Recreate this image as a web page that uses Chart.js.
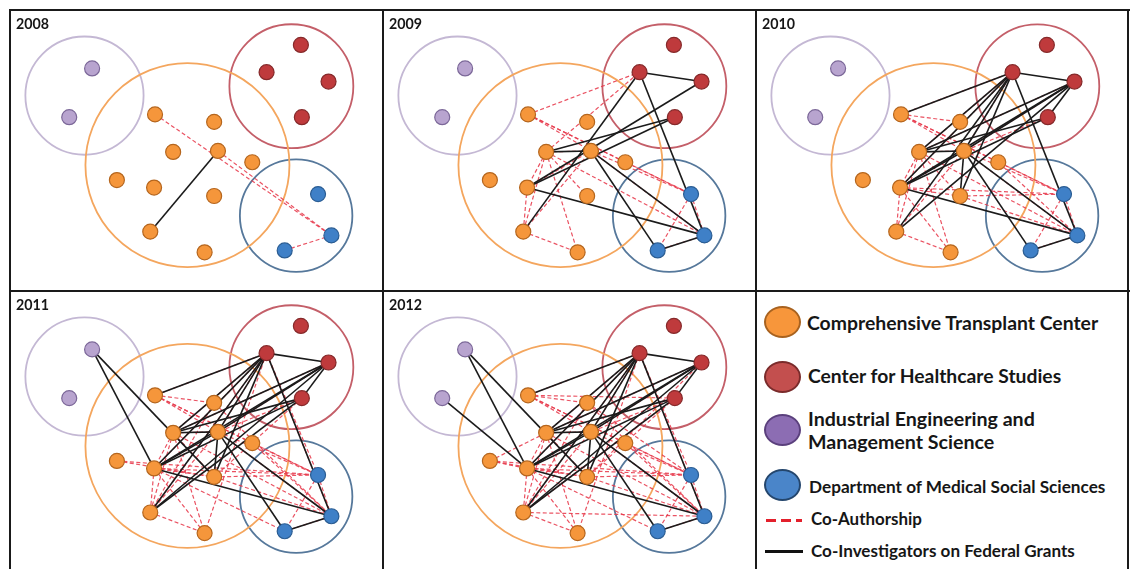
<!DOCTYPE html>
<html>
<head>
<meta charset="utf-8">
<script src="https://cdn.jsdelivr.net/npm/chart.js@4.4.1/dist/chart.umd.min.js"></script>
<style>
  html, body { margin: 0; padding: 0; background: #fff; }
  #stage { position: relative; width: 1134px; height: 569px; overflow: hidden; background: #fff; }
  .panel { position: absolute; overflow: hidden; }
  .panel canvas { position: absolute; left: 0; top: 0; }
  .txt { position: absolute; font-family: Lato, "Open Sans", sans-serif; font-weight: 700; color: #161616; line-height: 1; white-space: nowrap; }
  .rule { position: absolute; background: #1a1a1a; z-index: 5; }
  .swatch { position: absolute; border-radius: 50%; box-sizing: border-box; }
  .lineSample { position: absolute; }
</style>
</head>
<body>
<div id="stage"></div>
<script>
// ---- Departments (groups) ----
const groupNames = ['Comprehensive Transplant Center', 'Center for Healthcare Studies',
                    'Industrial Engineering and Management Science', 'Department of Medical Social Sciences'];
const legendLines = [['Comprehensive Transplant Center'], ['Center for Healthcare Studies'],
                     ['Industrial Engineering and', 'Management Science'], ['Department of Medical Social Sciences']];

// ---- Researchers: position inside each panel (panel units) and department ----
const nodeIds   = ['P1','P2','R1','R2','R3','R4','O1','O2','O3','O4','O5','O6','O7','O8','O9','O10','B1','B2','B3'];
const nodeX     = [ 77,  53, 296, 260, 325, 297, 143, 205, 162, 209, 245, 103, 142, 205, 138, 195, 314, 328, 279];
const nodeY     = [ 53, 105,  28,  57,  67, 105, 102, 110, 142, 141, 153, 172, 180, 189, 227, 249, 187, 231, 247];
const nodeGroup = [  2,   2,   1,   1,   1,   1,   0,   0,   0,   0,   0,   0,   0,   0,   0,   0,   3,   3,   3];

// ---- Department rings ----
const ringX = [177, 286,  69, 291];
const ringY = [156,  72,  82, 210];
const ringR = [107,  65,  62,  59];

// ---- Years ----
const years = ['2008', '2009', '2010', '2011', '2012'];

// Co-investigators on federal grants (solid)
const grants2008 = [['O4','O9']];
const grants2009 = [['R2','R3'],['R2','B2'],['R2','O9'],['R3','O7'],['R4','O3'],['R4','O7'],['O3','O4'],
                    ['O4','B3'],['O4','B2'],['O7','B2'],['B3','B2']];
const grants2010 = [['O1','R2'],['R2','R3'],['R3','R4'],['R2','B2'],['R2','O3'],['R2','O7'],['R2','O9'],['R2','O4'],
                    ['R2','O8'],['R3','O3'],['R3','O7'],['R3','O9'],['R4','O3'],['R4','O7'],['O3','O4'],['O4','O8'],
                    ['O4','B3'],['O4','B2'],['O7','B2'],['B3','B2'],['O7','O4'],['R3','O4']];
const grants2011 = [['O1','R2'],['R2','R3'],['R3','R4'],['R2','B2'],['R2','O3'],['R2','O7'],['R2','O9'],['R2','O4'],
                    ['R2','O8'],['R3','O3'],['R3','O7'],['R3','O9'],['R4','O3'],['R4','O7'],['O3','O4'],['O4','O8'],
                    ['O4','B3'],['O4','B2'],['O7','B2'],['B3','B2'],['O7','O4'],['R3','O4'],['P1','O7'],['P1','O8'],
                    ['R4','O9']];
const grants2012 = [['O1','R2'],['R2','R3'],['R3','R4'],['R2','B2'],['R2','O3'],['R2','O7'],['R2','O9'],['R2','O4'],
                    ['R2','O8'],['R3','O3'],['R3','O7'],['R3','O9'],['R4','O3'],['R4','O7'],['O3','O4'],['O4','O8'],
                    ['O4','B3'],['O4','B2'],['O7','B2'],['B3','B2'],['O7','O4'],['R3','O4'],['P1','O7'],['P1','O8'],
                    ['R4','O9'],['P2','O7']];

// Co-authorship (dashed)
const coauth2008 = [['O1','B2'],['O4','B2'],['B3','B2']];
const coauth2009 = [['O1','R2'],['O1','O4'],['O1','B1'],['O3','R2'],['O3','O4'],['O3','O7'],['O3','O9'],['O3','O8'],
                    ['O3','O10'],['O7','O9'],['O9','O10'],['O9','O4'],['O4','B1'],['O5','B1'],['O4','B2'],['O3','B2'],
                    ['B1','B2'],['B1','B3'],['B3','B2'],['O7','O4'],['O1','O5']];
const coauth2010 = [['O1','R2'],['O1','O4'],['O1','O2'],['O1','B1'],['O3','R2'],['O3','O4'],['O3','O7'],['O3','O9'],
                    ['O3','O8'],['O3','O10'],['O7','O9'],['O7','O10'],['O9','O10'],['O9','O4'],['O4','B1'],['O5','B1'],
                    ['O4','B2'],['O3','B2'],['O8','B1'],['O8','B2'],['O7','B1'],['R4','O4'],['R2','O7'],['B1','B2'],
                    ['B1','B3'],['B3','B2'],['O5','B2'],['R3','O4'],['R2','O4'],['O7','O8'],['R3','O3'],['O1','O5']];
const coauth2011 = [['O1','R2'],['O1','O4'],['O1','O2'],['O1','B1'],['O3','R2'],['O3','O4'],['O3','O7'],['O3','O9'],
                    ['O3','O8'],['O3','O10'],['O7','O9'],['O7','O10'],['O9','O10'],['O9','O4'],['O4','B1'],['O5','B1'],
                    ['O4','B2'],['O3','B2'],['O8','B1'],['O8','B2'],['O7','B1'],['R4','O4'],['R2','O7'],['B1','B2'],
                    ['B1','B3'],['B3','B2'],['O5','B2'],['R3','O4'],['R2','O4'],['O7','O8'],['R3','O3'],['O1','O5'],
                    ['O6','B1'],['R2','B1'],['R2','B2'],['O6','O8'],['R2','O9'],['O2','O9'],['R2','O10'],['O2','B2'],
                    ['O7','B3'],['R4','O8']];
const coauth2012 = [['O1','R2'],['O1','O4'],['O1','O2'],['O1','B1'],['O3','R2'],['O3','O4'],['O3','O7'],['O3','O9'],
                    ['O3','O8'],['O3','O10'],['O7','O9'],['O7','O10'],['O9','O10'],['O9','O4'],['O4','B1'],['O5','B1'],
                    ['O4','B2'],['O3','B2'],['O8','B1'],['O8','B2'],['O7','B1'],['R4','O4'],['R2','O7'],['B1','B2'],
                    ['B1','B3'],['B3','B2'],['O5','B2'],['R3','O4'],['R2','O4'],['O7','O8'],['R3','O3'],['O1','O5'],
                    ['O6','B1'],['R2','B1'],['R2','B2'],['O6','O8'],['R2','O9'],['O2','O9'],['R2','O10'],['O2','B2'],
                    ['O7','B3'],['R4','O8'],['O6','O3'],['O6','O7'],['R4','O9'],['O2','B1'],['R4','O1'],['O9','B2'],
                    ['R3','O8']];

const grantsByYear = [grants2008, grants2009, grants2010, grants2011, grants2012];
const coauthByYear = [coauth2008, coauth2009, coauth2010, coauth2011, coauth2012];

// ---- Styling ----
const nodeFill   = ['#f5963b', '#bf3a3c', '#b8a4cf', '#3f80c7'];
const nodeEdge   = ['#b5661e', '#862a2b', '#7c6899', '#2b5d93'];
const ringColor  = ['#f4a65e', '#c45f69', '#c4b8d4', '#56789b'];
const swatchFill = ['#f7963b', '#c34f4e', '#8c6db3', '#4a85c9'];
const swatchEdge = ['#a8621f', '#7a2b2b', '#5b407d', '#24466d'];

// ---- Page layout: panel frames ----
const panels = [
  { x: 10,  y: 10,  w: 373, h: 281 },
  { x: 383, y: 10,  w: 373, h: 281 },
  { x: 756, y: 10,  w: 372, h: 281 },
  { x: 10,  y: 291, w: 373, h: 278 },
  { x: 383, y: 291, w: 373, h: 278 },
  { x: 756, y: 291, w: 372, h: 278 }
];

const stage = document.getElementById('stage');
const measure = document.createElement('canvas').getContext('2d');
function fitSize(text, width) {
  measure.font = '700 100px Lato';
  return 100 * width / measure.measureText(text).width;
}
function addText(parent, text, left, capCenter, size) {
  const d = document.createElement('div');
  d.className = 'txt';
  d.textContent = text;
  d.style.fontSize = size + 'px';
  d.style.left = left + 'px';
  d.style.top = (capCenter - 0.529 * size) + 'px';
  parent.appendChild(d);
  return d;
}
function addRule(x, y, w, h) {
  const r = document.createElement('div');
  r.className = 'rule';
  Object.assign(r.style, { left: x + 'px', top: y + 'px', width: w + 'px', height: h + 'px' });
  stage.appendChild(r);
}

const nodeIndex = Object.fromEntries(nodeIds.map((id, i) => [id, i]));
const pt = id => ({ x: nodeX[nodeIndex[id]], y: nodeY[nodeIndex[id]] });

function networkChart(panel, year, grants, coauth) {
  const div = document.createElement('div');
  div.className = 'panel';
  Object.assign(div.style, { left: panel.x + 'px', top: panel.y + 'px', width: panel.w + 'px', height: panel.h + 'px' });
  stage.appendChild(div);
  const cv = document.createElement('canvas');
  cv.width = panel.w; cv.height = panel.h;
  cv.style.width = panel.w + 'px'; cv.style.height = panel.h + 'px';
  div.appendChild(cv);

  const datasets = [];
  // department rings, radius given in panel units
  groupNames.forEach((g, gi) => {
    datasets.push({
      label: g + ' ring',
      data: [{ x: ringX[gi], y: ringY[gi] }],
      pointRadius: c => {
        const s = c.chart.scales.x;
        return Math.abs(s.getPixelForValue(ringR[gi]) - s.getPixelForValue(0));
      },
      pointBackgroundColor: 'rgba(0,0,0,0)',
      pointBorderColor: ringColor[gi],
      pointBorderWidth: 1.8,
      clip: false,
      order: 3
    });
  });
  // co-authorship links
  coauth.forEach(([a, b]) => datasets.push({
    label: 'Co-Authorship',
    data: [pt(a), pt(b)], showLine: true, tension: 0,
    borderColor: 'rgba(231,58,76,0.88)', borderWidth: 1.2, borderDash: [4, 2.5],
    pointRadius: 0, order: 2
  }));
  // grant links
  grants.forEach(([a, b]) => datasets.push({
    label: 'Co-Investigators on Federal Grants',
    data: [pt(a), pt(b)], showLine: true, tension: 0,
    borderColor: '#1b1b1b', borderWidth: 1.6,
    pointRadius: 0, order: 1
  }));
  // researchers
  groupNames.forEach((g, gi) => {
    datasets.push({
      label: g,
      data: nodeIds.filter((id, i) => nodeGroup[i] === gi).map(pt),
      pointRadius: 7.5,
      pointBackgroundColor: nodeFill[gi],
      pointBorderColor: nodeEdge[gi],
      pointBorderWidth: 1.2,
      order: 0
    });
  });

  new Chart(cv, {
    type: 'scatter',
    data: { datasets },
    options: {
      responsive: false,
      animation: false,
      events: [],
      layout: { padding: 0 },
      plugins: { legend: { display: false }, tooltip: { enabled: false } },
      scales: {
        x: { type: 'linear', min: 0, max: panel.w, display: false },
        y: { type: 'linear', min: 0, max: panel.h, reverse: true, display: false }
      }
    }
  });

  const yearLabel = addText(div, year, 6, 14.6, fitSize(year, 33));
  yearLabel.style.zIndex = 2;
}

years.forEach((yr, i) => networkChart(panels[i], yr, grantsByYear[i], coauthByYear[i]));

// ---- Legend panel ----
const lp = panels[5];
const legend = document.createElement('div');
legend.className = 'panel';
Object.assign(legend.style, { left: lp.x + 'px', top: lp.y + 'px', width: lp.w + 'px', height: lp.h + 'px' });
stage.appendChild(legend);

const swatchCY   = [31, 86, 139, 194];
const labelLeft  = [51, 52, 52, 53];
const labelCap   = [[32.3], [85.3], [128.2, 151.5], [195.7]];
const labelWidth = [292, 254, 227, 297];
legendLines.forEach((lines, gi) => {
  const sw = document.createElement('div');
  sw.className = 'swatch';
  Object.assign(sw.style, {
    left: (26 - 18.5) + 'px', top: (swatchCY[gi] - 16) + 'px', width: '37px', height: '32px',
    background: swatchFill[gi], border: '2.5px solid ' + swatchEdge[gi]
  });
  legend.appendChild(sw);
  const size = fitSize(lines[0], labelWidth[gi]);
  lines.forEach((t, li) => addText(legend, t, labelLeft[gi], labelCap[gi][li], size));
});

const dashed = document.createElement('div');
dashed.className = 'lineSample';
Object.assign(dashed.style, {
  left: '10px', top: '227.5px', width: '36px', height: '3px',
  background: 'repeating-linear-gradient(90deg, #e3202c 0 10px, transparent 10px 15px)'
});
legend.appendChild(dashed);
addText(legend, 'Co-Authorship', 55, 229.3, fitSize('Co-Authorship', 111));

const solid = document.createElement('div');
solid.className = 'lineSample';
Object.assign(solid.style, { left: '9px', top: '258.5px', width: '38px', height: '3px', background: '#111' });
legend.appendChild(solid);
addText(legend, 'Co-Investigators on Federal Grants', 55, 259.8, fitSize('Co-Investigators on Federal Grants', 264));

// ---- Frame lines ----
addRule(9, 9, 1121, 2);
addRule(9, 290, 1121, 2);
[10, 383, 756, 1128].forEach(x => addRule(x - 1, 9, 2, 560));
</script>
</body>
</html>
